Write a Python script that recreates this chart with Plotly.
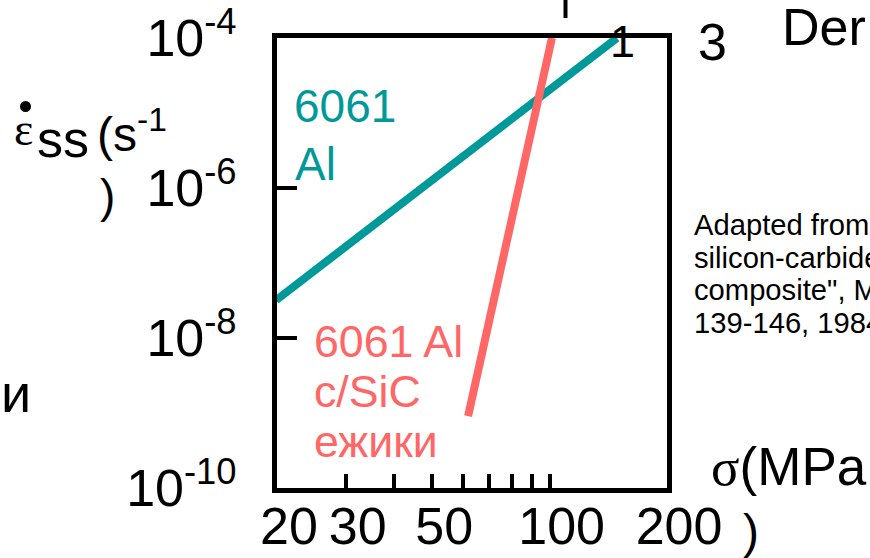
import plotly.graph_objects as go

# ---- data ----
al_stress = [19.9, 148.8]          # MPa
al_rate = [3.2e-8, 1.0e-4]         # 1/s
comp_stress = [61.8, 101.4]        # MPa
comp_rate = [9.1e-10, 1.0e-4]      # 1/s

x_tickvals = [20, 30, 50, 100, 200]
x_ticktext = ["20", "30", "50", "100", "200"]
x_minorvals = [40, 60, 70, 80, 90]
y_tickvals = [1e-10, 1e-8, 1e-6, 1e-4]
y_ticktext = ["10<sup>-10</sup>", "10<sup>-8</sup>", "10<sup>-6</sup>", "10<sup>-4</sup>"]

TEAL = "#009999"
RED = "#FF6666"
SANS = "Liberation Sans, Arial, sans-serif"
SERIF = "Liberation Serif, Times New Roman, serif"

W, H = 870, 558
L, R, T, B = 277, 667, 38, 488   # plot area in pixels


def px(X):
    return (X - L) / (R - L)


def py(Y):
    return (B - Y) / (B - T)


def ann(text, X, baseline, size, color="black", family=SANS, anchor="left"):
    return dict(text=text, xref="paper", yref="paper", x=px(X),
                y=py(baseline - 0.3465 * size), xanchor=anchor, yanchor="middle",
                showarrow=False, borderpad=0,
                font=dict(size=size, color=color, family=family))


fig = go.Figure()
fig.add_trace(go.Scatter(x=al_stress, y=al_rate, mode="lines",
                         line=dict(color=TEAL, width=8), showlegend=False))
fig.add_trace(go.Scatter(x=comp_stress, y=comp_rate, mode="lines",
                         line=dict(color=RED, width=8), showlegend=False))

annotations = [
    ann("6061", 293, 122, 46, TEAL),
    ann("Al", 294, 180, 46, TEAL),
    ann("6061 Al", 313, 357, 44.7, RED),
    ann("c/SiC", 313, 407, 44.7, RED),
    ann("ежики", 313, 457, 44.7, RED),
    ann("ε", 13, 145, 46, family=SERIF),
    ann("ss", 36, 157, 52),
    ann("(s<sup>-1</sup>", 96, 148, 48),
    ann(")", 99, 212, 46),
    ann("и", 0, 412, 54),
    ann("1", 609, 57, 45),
    ann("3", 697, 60, 52),
    ann("Der", 781, 45, 52),
    ann("<span style='font-family:Liberation Serif, serif'>σ</span>(MPa", 710, 485, 53),
    ann(")", 742, 548, 48),
    ann("Adapted from", 693, 235, 29.2),
    ann("silicon-carbide", 693, 267.7, 29.2),
    ann("composite\", M", 693, 300.3, 29.2),
    ann("139-146, 1984", 693, 333, 29.2),
]

fig.update_layout(
    width=W, height=H,
    margin=dict(l=L, r=W - R, t=T, b=H - B, pad=0, autoexpand=False),
    paper_bgcolor="white", plot_bgcolor="white",
    font=dict(family=SANS, color="black"),
    annotations=annotations,
    shapes=[
        dict(type="line", xref="paper", yref="paper",
             x0=px(565.5), x1=px(565.5), y0=py(0), y1=py(18),
             line=dict(color="black", width=4)),
        dict(type="circle", xref="paper", yref="paper",
             x0=px(20), x1=px(31), y0=py(101), y1=py(112),
             fillcolor="black", line=dict(width=0)),
    ],
    xaxis=dict(type="log", range=[1.30103, 2.30103], showline=True, linewidth=5,
               linecolor="black", mirror=True, ticks="inside", ticklen=14,
               tickwidth=4, tickcolor="black", tickvals=x_tickvals,
               ticktext=x_ticktext, tickfont=dict(size=52, family=SANS),
               minor=dict(tickvals=x_minorvals, ticks="inside", ticklen=14,
                          tickwidth=4, tickcolor="black", showgrid=False),
               showgrid=False, zeroline=False, ticklabelshift=12,
               ticklabelstandoff=-11, automargin=False),
    yaxis=dict(type="log", range=[-10, -4], showline=True, linewidth=5,
               linecolor="black", mirror=True, ticks="inside", ticklen=20,
               tickwidth=4, tickcolor="black", tickvals=y_tickvals,
               ticktext=y_ticktext, tickfont=dict(size=52, family=SANS),
               showgrid=False, zeroline=False, ticklabelstandoff=25, automargin=False),
)

fig.write_html("out.html",
               config={"displayModeBar": False},
               post_script="document.body.style.margin='0';document.body.style.overflow='hidden';")
